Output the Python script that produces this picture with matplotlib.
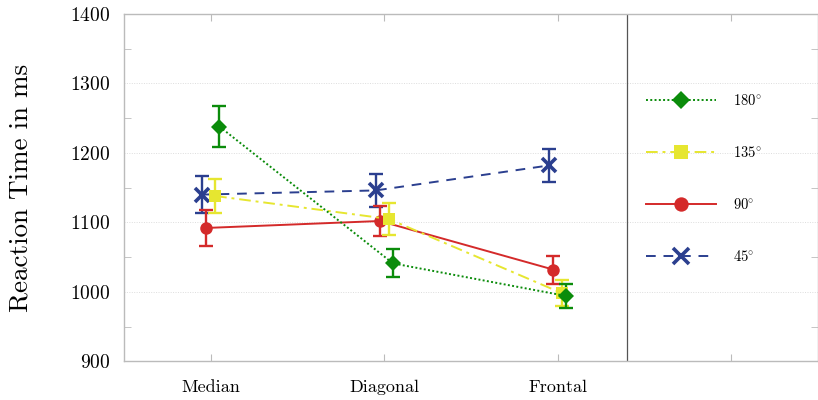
import matplotlib
matplotlib.use("Agg")
import matplotlib.pyplot as plt
import numpy as np
from matplotlib.ticker import MultipleLocator

plt.rcParams['font.family'] = ['cmr10', 'DejaVu Serif']
plt.rcParams['mathtext.fontset'] = 'cm'
plt.rcParams['axes.formatter.use_mathtext'] = True

categories = ['Median', 'Diagonal', 'Frontal']
series_labels = ['180', '135', '90', '45']
rt_180 = [1238, 1041, 994]
err_180 = [30, 20, 17]
rt_135 = [1138, 1105, 998]
err_135 = [25, 23, 19]
rt_90 = [1092, 1102, 1032]
err_90 = [26, 22, 20]
rt_45 = [1140, 1146, 1182]
err_45 = [27, 24, 24]

fig = plt.figure(figsize=(8.18, 4.0), dpi=100)
ax = fig.add_axes([0.1516, 0.0967, 0.8484, 0.8683])

x = np.arange(1, len(categories) + 1)

styles = {
    '45': dict(color='#2b3f8f', ls=(0, (5, 4)), marker='x', ms=10, mew=2.6, off=-0.05),
    '90': dict(color='#d42a2a', ls='-', marker='o', ms=9, mew=0, off=-0.025),
    '135': dict(color='#e6e630', ls=(0, (6, 2.5, 1.5, 2.5)), marker='s', ms=9, mew=0, off=0.025),
    '180': dict(color='#0b8c0b', ls=(0, (1, 1.2)), marker='D', ms=8, mew=0, off=0.05),
}
data = {'180': (rt_180, err_180), '135': (rt_135, err_135),
        '90': (rt_90, err_90), '45': (rt_45, err_45)}

handles = {}
for key in ['45', '90', '135', '180']:
    st = styles[key]
    vals, errs = data[key]
    xs = x + st['off']
    ax.errorbar(xs, vals, yerr=errs, fmt='none', ecolor=st['color'],
                elinewidth=1.7, capsize=5, capthick=1.7, zorder=3)
    h, = ax.plot(xs, vals, color=st['color'], ls=st['ls'], lw=1.4,
                 marker=st['marker'], ms=st['ms'], mew=st['mew'],
                 mec=st['color'], mfc=st['color'], zorder=4)
    handles[key] = h

ax.axvline(3.4, color='#555555', lw=0.9, zorder=2)

ax.set_xlim(0.5, 4.5)
ax.set_ylim(900, 1400)
ax.set_xticks([1, 2, 3, 4])
ax.set_xticklabels(categories + [''], fontsize=13)
ax.yaxis.set_major_locator(MultipleLocator(100))
ax.yaxis.set_minor_locator(MultipleLocator(50))
ax.tick_params(axis='y', which='both', direction='in', length=5, color='#bbbbbb',
               left=True, right=True, labelsize=14, pad=10)
ax.tick_params(axis='x', which='both', direction='in', length=5, color='#bbbbbb',
               top=True, bottom=True, pad=13)
ax.tick_params(axis='y', which='major', length=0)
ax.grid(axis='y', which='major', color='#dddddd', ls=(0, (1, 1.5)), lw=0.7)
for sp in ax.spines.values():
    sp.set_color('#bbbbbb')
    sp.set_linewidth(1.0)

ax.set_ylabel('Reaction Time in ms', fontsize=19.5, labelpad=27)

leg = ax.legend([handles[k] for k in series_labels],
                [r'$' + k + r'\!^\circ$' for k in series_labels],
                loc='upper left', bbox_to_anchor=(0.733, 0.811), frameon=False,
                fontsize=10.5, handlelength=4.8, labelspacing=2.55,
                handletextpad=1.2, markerscale=1.15)

fig.savefig('out.png', dpi=100)
